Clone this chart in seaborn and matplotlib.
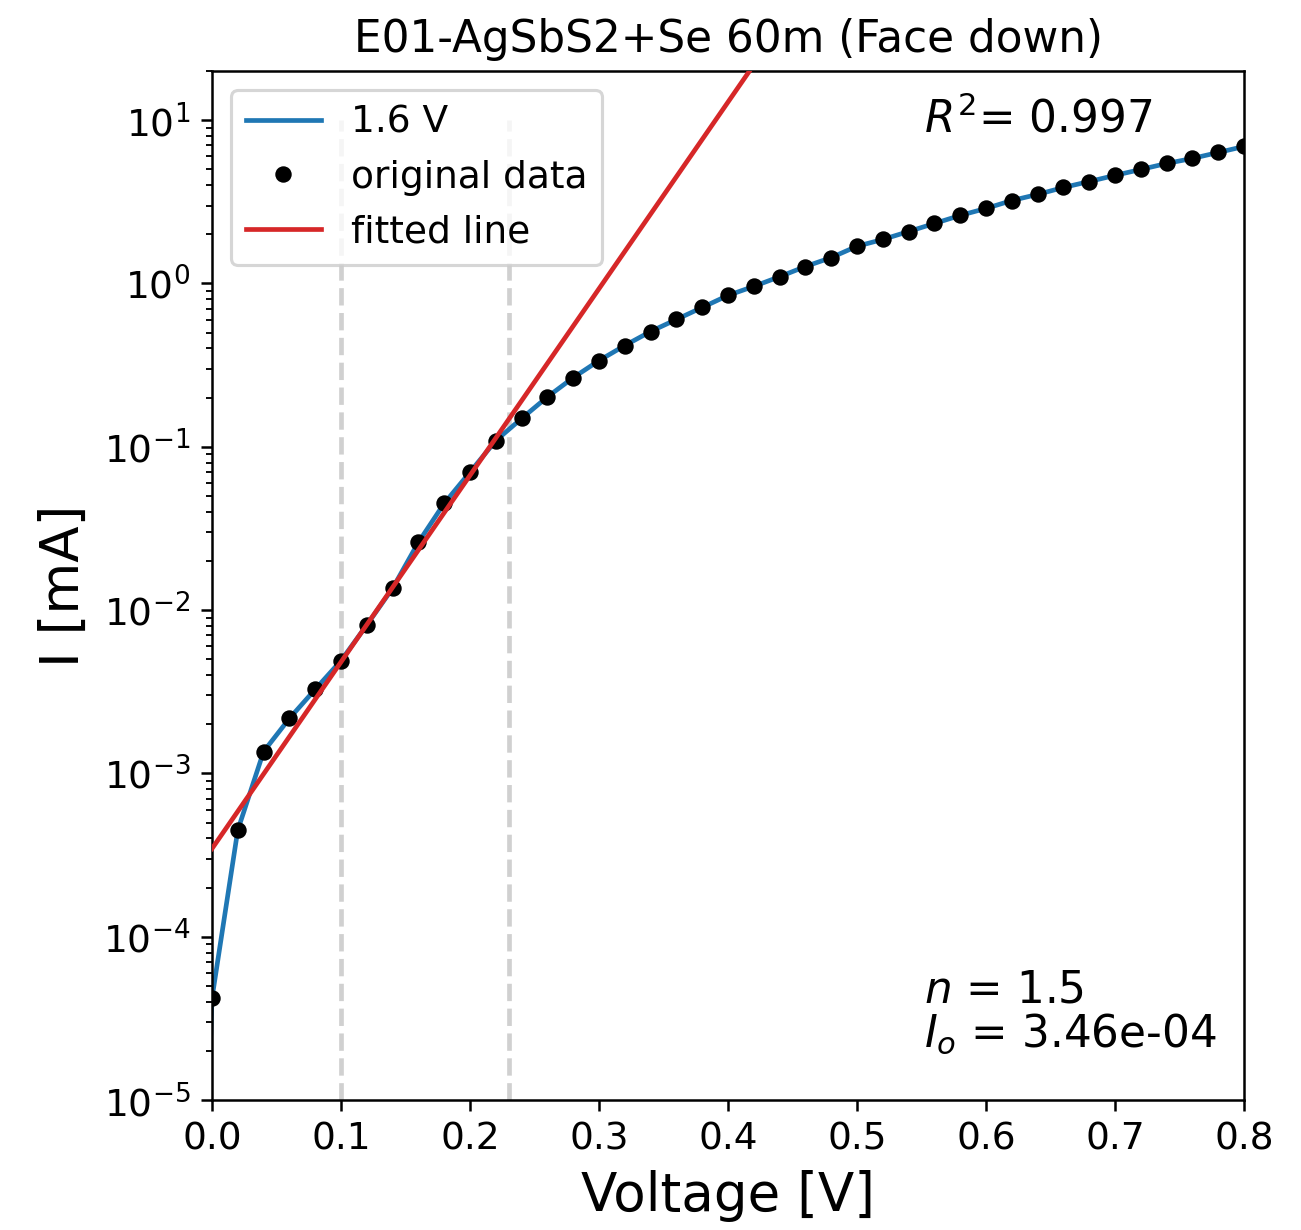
import numpy as np
import pandas as pd
import matplotlib
matplotlib.use("Agg")
import matplotlib.pyplot as plt
import seaborn as sns

# Measured forward sweep (dark I-V), current in mA
voltage = [0.00, 0.02, 0.04, 0.06, 0.08, 0.10, 0.12, 0.14, 0.16, 0.18,
           0.20, 0.22, 0.24, 0.26, 0.28, 0.30, 0.32, 0.34, 0.36, 0.38,
           0.40, 0.42, 0.44, 0.46, 0.48, 0.50, 0.52, 0.54, 0.56, 0.58,
           0.60, 0.62, 0.64, 0.66, 0.68, 0.70, 0.72, 0.74, 0.76, 0.78, 0.80]
current = [4.2e-5, 4.5e-4, 1.36e-3, 2.17e-3, 3.27e-3, 4.9e-3, 8.1e-3, 1.36e-2, 2.6e-2, 4.5e-2,
           7.0e-2, 0.109, 0.149, 0.202, 0.265, 0.337, 0.417, 0.508, 0.602, 0.713,
           0.845, 0.96, 1.10, 1.27, 1.44, 1.69, 1.86, 2.08, 2.33, 2.61,
           2.88, 3.22, 3.51, 3.87, 4.21, 4.59, 4.99, 5.43, 5.83, 6.34, 6.90]

# Sweep point just before 0 V (near-zero current)
pre_voltage = [-0.02]
pre_current = [1e-9]

# Diode fit results
n_ideality = 1.47
I_o = 3.46e-4
r_squared = 0.997
V_thermal = 0.02585
fit_window = [0.10, 0.23]

sweep = pd.DataFrame({"V": pre_voltage + voltage, "I": pre_current + current})
points = pd.DataFrame({"V": voltage, "I": current})
v_fit = np.linspace(0.0, 0.8, 400)
fit = pd.DataFrame({"V": v_fit, "I": I_o * np.exp(v_fit / (n_ideality * V_thermal))})

fig, ax = plt.subplots(figsize=(1301 / 225, 1230 / 225), dpi=225)
fig.subplots_adjust(left=212 / 1301, right=1244 / 1301, top=1 - 71 / 1230, bottom=1 - 1100 / 1230)

ax.vlines(fit_window, 1e-5, 10, colors="#d0d0d0", linestyles="dashed", zorder=1)
sns.lineplot(data=sweep, x="V", y="I", ax=ax, color="#1f77b4", lw=1.5,
             label="1.6 V", zorder=2)
sns.lineplot(data=points, x="V", y="I", ax=ax, color="black", marker="o", ms=4.5,
             mec="black", linestyle="", label="original data", zorder=3)
sns.lineplot(data=fit, x="V", y="I", ax=ax, color="#d62728", lw=1.5,
             label="fitted line", zorder=4)

ax.set_yscale("log")
ax.set_xlim(0, 0.8)
ax.set_ylim(1e-5, 20)
ax.set_title("E01-AgSbS2+Se 60m (Face down)", fontsize=14)
ax.set_xlabel("Voltage [V]", fontsize=17)
ax.set_ylabel("I [mA]", fontsize=17)
ax.tick_params(labelsize=12)

ax.text(0.69, 0.975, r"$R^2$= " + f"{r_squared:.3f}", transform=ax.transAxes,
        fontsize=14, va="top")
ax.text(0.69, 0.043, r"$n$ = " + f"{n_ideality:.1f}" + "\n" + r"$I_o$ = " + f"{I_o:.2e}",
        transform=ax.transAxes, fontsize=14, va="bottom", linespacing=1.0)

ax.legend(loc="upper left", fontsize=12)
fig.savefig("out.png", dpi=225)
